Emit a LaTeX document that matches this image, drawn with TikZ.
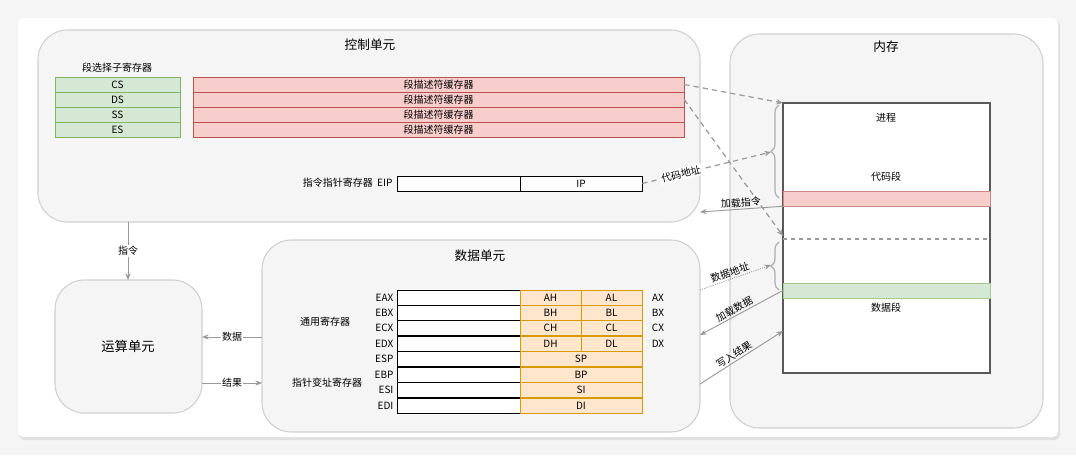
\documentclass[tikz,border=0pt]{standalone}
\usepackage{fontspec}
\setmainfont{Noto Sans CJK SC}
\usetikzlibrary{decorations.pathreplacing,arrows.meta}
\definecolor{panel}{HTML}{F5F5F5}
\definecolor{panelline}{HTML}{D0D0D0}
\definecolor{redf}{HTML}{F8CECC}\definecolor{redd}{HTML}{B85450}
\definecolor{grnf}{HTML}{D5E8D4}\definecolor{grnd}{HTML}{82B366}
\definecolor{orgf}{HTML}{FFE6CC}\definecolor{orgd}{HTML}{D79B00}
\definecolor{arr}{HTML}{9A9A9A}
\begin{document}
\begin{tikzpicture}[x=0.75pt,y=-0.75pt,
  panelbox/.style={draw=panelline,fill=panel,line width=0.8pt,rounded corners=22pt},
  reg/.style={draw,inner sep=0,font=\fontsize{7.5}{8}\selectfont,minimum height=11.25pt},
  lbl/.style={font=\fontsize{7.5}{8}\selectfont,inner sep=1pt},
  ttl/.style={font=\fontsize{9.5}{10}\selectfont},
  conn/.style={draw=arr,line width=0.7pt,-{Stealth[length=5pt,width=4pt]}},
  dconn/.style={conn,dashed,dash pattern=on 4pt off 3pt,line width=0.9pt}]
\useasboundingbox (0,0) rectangle (1076,455);
\fill[white!96!black] (0,0) rectangle (1076,455);
\fill[black!12,rounded corners=4pt] (19,20) rectangle (1060,440);
\fill[white,rounded corners=4pt] (18,18) rectangle (1058,437);
% panels
\draw[panelbox] (38,30) rectangle (700,222);
\node[ttl] (tctl) at (370,45) {控制单元};
\draw[panelbox] (730,34) rectangle (1043,428);
\node[ttl] (tmem) at (886,47) {内存};
\draw[panelbox] (262,240) rectangle (700,432);
\node[ttl] (tdat) at (480,256) {数据单元};
\draw[panelbox] (55,280) rectangle (202,413);
\node[font=\fontsize{10}{11}\selectfont] (alu) at (128,346) {运算单元};
% selectors
\node[lbl] (sel) at (117,68) {段选择子寄存器};
\foreach \n/\t/\y in {cs/CS/84.5,ds/DS/99.5,ss/SS/114.5,es/ES/129.5}{
  \node[reg,draw=grnd,fill=grnf,minimum width=93.75pt] (\n) at (117.5,\y) {\t};
  \node[reg,draw=redd,fill=redf,minimum width=368.25pt] (d\n) at (438.5,\y) {段描述符缓存器};
}
% EIP
\node[lbl,anchor=east] (eipl) at (394,183) {指令指针寄存器\ \ EIP};
\node[reg,fill=white,minimum width=92.25pt] (eip) at (458.5,183.5) {};
\node[reg,fill=white,minimum width=91.5pt] (ip) at (581,183.5) {IP};
% memory
\draw[draw=black!65,fill=white,line width=0.8pt] (783,103) rectangle (990,373);
\node[lbl] (proc) at (886,118) {进程};
\node[lbl] (code) at (886,177) {代码段};
\node[draw=redd!70,fill=redf,minimum width=155.25pt,minimum height=11.25pt,inner sep=0] (cseg) at (886.5,198.5) {};
\draw[black!40,dashed,line width=0.8pt] (783,239) -- (990,239);
\node[draw=grnd!70,fill=grnf,minimum width=155.25pt,minimum height=11.25pt,inner sep=0] (dseg) at (886.5,290.5) {};
\node[lbl] (data) at (886,308) {数据段};
\coordinate (m1) at (783,103);
\coordinate (m2) at (783,236);
\draw[arr!80,line width=0.9pt,decorate,decoration={brace,amplitude=6pt}] (779,198) -- (779,105);
\draw[arr!80,line width=0.9pt,decorate,decoration={brace,amplitude=6pt}] (779,290) -- (779,242);
\coordinate (b1t) at (771,152);
\coordinate (b2t) at (771,265);
% registers
\node[lbl] (gen) at (325,322) {通用寄存器};
\node[lbl] (ptr) at (327,383) {指针变址寄存器};
\foreach \n/\y/\a/\b/\c in {ax/297.5/AH/AL/AX,bx/312.5/BH/BL/BX,cx/328/CH/CL/CX,dx/343.5/DH/DL/DX}{
  \node[lbl,anchor=east] (e\n) at (395,\y) {E\c};
  \node[reg,fill=white,minimum width=92.25pt] (w\n) at (458.5,\y) {};
  \node[reg,draw=orgd,fill=orgf,minimum width=45.75pt] (h\n) at (550.5,\y) {\a};
  \node[reg,draw=orgd,fill=orgf,minimum width=45.75pt] (l\n) at (611.5,\y) {\b};
  \node[lbl] (r\n) at (658,\y) {\c};
}
\foreach \n/\y in {SP/359,BP/374.5,SI/390,DI/405.5}{
  \node[lbl,anchor=east] (e\n) at (395,\y) {E\n};
  \node[reg,fill=white,minimum width=92.25pt] (w\n) at (458.5,\y) {};
  \node[reg,draw=orgd,fill=orgf,minimum width=91.5pt] (o\n) at (581,\y) {\n};
}
% connectors
\draw[dconn] (dcs.east) -- (m1);
\draw[dconn] (dds.east) -- (m2);
\draw[dconn] (ip.east) -- node[lbl,sloped,fill=white,pos=0.3]{代码地址} (b1t);
\coordinate (ci) at (700,212);
\draw[conn] (cseg.south west) -- node[lbl,sloped,above]{加载指令} (ci);
\coordinate (da) at (700,290);
\draw[conn,densely dotted] (da) -- node[lbl,sloped,above,pos=0.45]{数据地址} (b2t);
\coordinate (ld) at (700,335);
\draw[conn] (dseg.west) -- node[lbl,sloped,above,pos=0.55]{加载数据} (ld);
\coordinate (wr) at (700,384);\coordinate (wm) at (783,331);
\draw[conn] (wr) -- node[lbl,sloped,above,pos=0.45]{写入结果} (wm);
\coordinate (c1) at (128,222);\coordinate (c2) at (128,280);
\draw[conn] (c1) -- node[lbl,fill=white]{指令} (c2);
\coordinate (d1) at (262,337);\coordinate (d2) at (202,337);
\draw[conn] (d1) -- node[lbl,fill=white]{数据} (d2);
\coordinate (r1) at (202,383);\coordinate (r2) at (262,383);
\draw[conn] (r1) -- node[lbl,fill=white]{结果} (r2);
\end{tikzpicture}
\end{document}
